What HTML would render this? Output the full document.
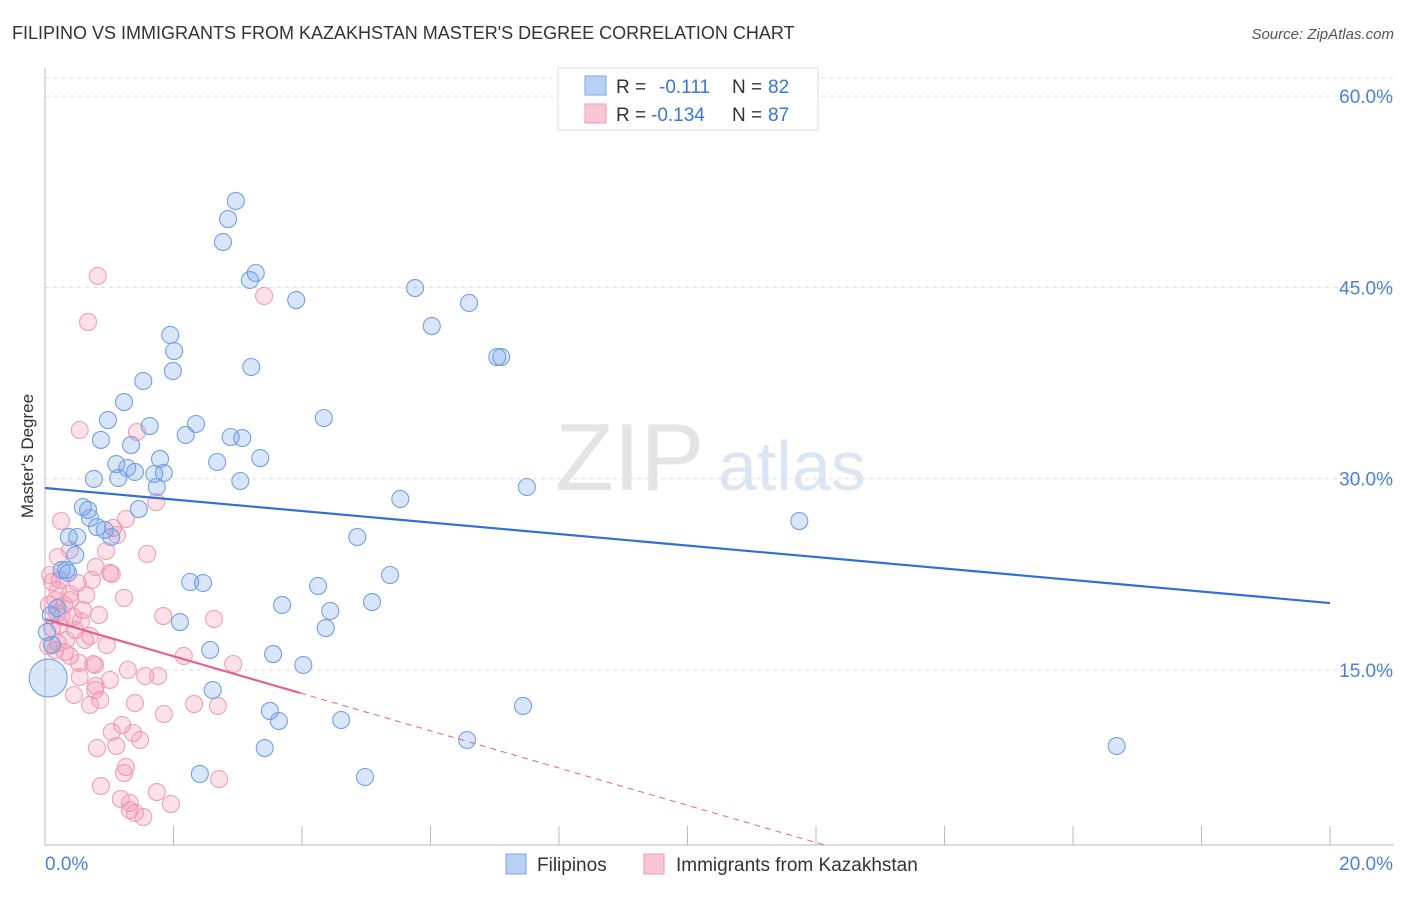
<!DOCTYPE html>
<html><head><meta charset="utf-8"><style>
body{margin:0;background:#fff;font-family:"Liberation Sans",sans-serif;}
svg text{font-family:"Liberation Sans",sans-serif;}
</style></head><body>
<svg id="chart" width="1406" height="892" xmlns="http://www.w3.org/2000/svg">
<text x="12" y="39" font-size="18" fill="#333">FILIPINO VS IMMIGRANTS FROM KAZAKHSTAN MASTER'S DEGREE CORRELATION CHART</text>
<text x="1394" y="39" font-size="15" fill="#555" text-anchor="end" font-style="italic">Source: ZipAtlas.com</text>
<text transform="translate(33,456) rotate(-90)" font-size="17" fill="#333" text-anchor="middle">Master's Degree</text>
<text x="555" y="490" font-size="96" fill="#e4e4e4" font-family="Liberation Serif">ZIP</text>
<text x="718" y="490" font-size="70" fill="#dbe6f5">atlas</text>
<g id="grid"></g><g id="pts"></g><g id="lines"></g>
<g>
<rect x="558" y="68" width="260" height="62" fill="#fff" stroke="#ddd"/>
<rect x="585" y="76" width="21" height="19" fill="#b8d0f3" stroke="#7aa5e6"/>
<rect x="585" y="104" width="21" height="19" fill="#f9c6d4" stroke="#ef9ab4"/>
<text x="616" y="93" font-size="19" fill="#333">R =</text><text x="659" y="93" font-size="19" fill="#3a76d6">-0.111</text>
<text x="732" y="93" font-size="19" fill="#333">N =</text><text x="768" y="93" font-size="19" fill="#3a76d6">82</text>
<text x="616" y="121" font-size="19" fill="#333">R =</text><text x="651" y="121" font-size="19" fill="#3a76d6">-0.134</text>
<text x="732" y="121" font-size="19" fill="#333">N =</text><text x="768" y="121" font-size="19" fill="#3a76d6">87</text>
</g>
<g>
<rect x="506" y="854" width="20" height="20" fill="#b8d0f3" stroke="#7aa5e6"/>
<text x="537" y="871" font-size="19" fill="#333">Filipinos</text>
<rect x="644" y="854" width="20" height="20" fill="#f9c6d4" stroke="#ef9ab4"/>
<text x="676" y="871" font-size="19" fill="#333">Immigrants from Kazakhstan</text>
</g>
</svg>
<script>
const yTicks=[15,30,45,60];
const yTickLabels=["15.0%","30.0%","45.0%","60.0%"];
const xEndLabels=["0.0%","20.0%"];
const blueX=[2.97,2.85,2.77,3.28,3.19,3.91,5.76,6.60,6.02,7.04,7.10,1.95,2.01,1.99,3.21,1.53,1.23,0.98,1.63,0.87,1.34,2.19,2.35,2.89,3.07,4.34,3.35,2.68,1.11,1.28,1.40,1.79,1.70,1.85,1.14,0.76,1.74,3.04,5.53,7.50,1.46,0.59,0.67,0.70,0.81,0.93,1.03,0.37,0.50,11.74,4.86,0.33,0.47,0.26,0.36,2.26,2.46,4.25,5.37,4.44,5.09,3.69,2.10,4.37,2.57,3.55,4.02,2.61,3.50,3.64,4.61,7.44,3.42,6.57,2.41,4.98,16.68,0.09,0.19,0.03,0.11,0.05];
const blueY=[51.78,50.36,48.56,46.13,45.58,44.01,44.95,43.78,41.97,39.54,39.54,41.27,40.01,38.45,38.76,37.66,36.01,34.60,34.13,33.04,32.64,33.43,34.29,33.27,33.19,34.76,31.62,31.31,31.15,30.84,30.53,31.55,30.37,30.45,30.06,29.98,29.35,29.82,28.41,29.35,27.62,27.78,27.55,26.92,26.21,25.98,25.43,25.43,25.43,26.68,25.43,22.84,24.02,22.84,22.61,21.90,21.82,21.59,22.45,19.63,20.33,20.10,18.76,18.29,16.57,16.25,15.39,13.43,11.79,11.00,11.08,12.18,8.88,9.51,6.85,6.61,9.04,19.31,19.86,17.98,16.96,14.37];
const pinkX=[0.82,3.41,0.67,0.54,1.43,1.73,0.25,1.26,1.06,1.12,0.39,0.95,1.59,0.20,0.79,1.01,1.04,0.11,0.51,1.23,0.20,0.39,0.64,0.16,0.06,1.84,2.63,0.59,0.19,0.26,0.44,0.56,0.11,0.47,0.70,0.33,0.20,0.96,0.05,0.31,0.39,0.75,0.53,2.16,2.93,1.29,1.56,1.76,0.78,0.54,0.45,0.78,0.79,0.70,1.40,2.69,2.32,1.85,1.20,1.04,1.37,0.81,1.11,1.26,1.23,2.71,0.87,1.74,1.18,1.32,1.32,1.40,1.53,1.96,0.23,0.08,0.39,0.62,0.23,0.86,0.16,0.30,0.73,0.84,1.48,1.01];
const pinkY=[45.90,44.33,42.29,33.82,33.66,28.17,26.68,26.84,26.14,25.59,24.41,24.33,24.10,23.86,23.08,22.61,22.53,21.90,21.82,20.65,21.27,20.96,20.88,20.49,20.10,19.23,19.00,19.71,19.47,19.16,19.16,18.84,18.29,18.14,17.67,17.35,17.12,16.96,16.88,16.41,16.10,15.47,15.55,16.10,15.47,15.00,14.53,14.53,15.39,14.45,13.04,13.43,13.75,12.26,12.41,12.18,12.33,11.55,10.69,10.14,10.06,8.88,9.04,7.39,6.92,6.45,5.90,5.43,4.89,4.57,4.02,3.79,3.47,4.49,22.06,22.45,20.49,17.35,18.53,12.65,16.57,20.10,22.06,19.31,9.51,14.22];
const blueLine=[29.27,20.25];
const pinkLine=[19.0,13.2];
const pinkLineEndX=3.97;
const NS="http://www.w3.org/2000/svg";
const X0=45,X1=1330,YB=845;
function sx(v){return X0+v/20*(X1-X0);}
function sy(v){return 861.3-v*12.753;}
function mk(tag,attrs,parent){const e=document.createElementNS(NS,tag);for(const k in attrs)e.setAttribute(k,attrs[k]);parent.appendChild(e);return e;}
const grid=document.getElementById('grid');
let e=mk('line',{x1:X0,x2:1394,y1:78,y2:78,stroke:'#ddd','stroke-dasharray':'4,4'},grid);


yTicks.forEach((t,i)=>{
 let g=mk('line',{x1:X0,x2:1394,y1:sy(t),y2:sy(t),stroke:'#ddd','stroke-dasharray':'4,4'},grid);
 
 
 let tx=mk('text',{x:1393,y:sy(t)+7,'font-size':19,fill:'#4a80d8','text-anchor':'end'},grid);
 tx.textContent=yTickLabels[i];
 
 
});
e=mk('line',{x1:X0,x2:X0,y1:68,y2:YB,stroke:'#bbb'},grid);


e=mk('line',{x1:X0,x2:1394,y1:YB,y2:YB,stroke:'#bbb'},grid);


for(let k=1;k<=10;k++){
 let t=mk('line',{x1:sx(2*k),x2:sx(2*k),y1:826,y2:YB,stroke:'#bbb'},grid);
 
 
}
let l0=mk('text',{x:45,y:870,'font-size':19,fill:'#4a80d8'},grid);l0.textContent=xEndLabels[0];


let l1=mk('text',{x:1393,y:870,'font-size':19,fill:'#4a80d8','text-anchor':'end'},grid);l1.textContent=xEndLabels[1];


const pts=document.getElementById('pts');
pinkX.forEach((x,i)=>{
 let c=mk('circle',{cx:sx(x),cy:sy(pinkY[i]),r:8.5,fill:'rgba(242,140,170,0.26)',stroke:'#ee9fb7','stroke-width':1.1},pts);
 
 
});
blueX.forEach((x,i)=>{
 let big=i===blueX.length-1;
 let c=mk('circle',{cx:sx(x),cy:sy(blueY[i]),r:big?19:8.5,fill:'rgba(110,160,235,0.26)',stroke:'#72a0e2','stroke-width':1.1},pts);
 
 
});
const lines=document.getElementById('lines');
e=mk('line',{x1:sx(0),y1:sy(blueLine[0]),x2:sx(20),y2:sy(blueLine[1]),stroke:'#2f6fd6','stroke-width':2.2},lines);


e=mk('line',{x1:sx(0),y1:sy(pinkLine[0]),x2:sx(pinkLineEndX),y2:sy(pinkLine[1]),stroke:'#e8608a','stroke-width':2.2},lines);


const slope=(pinkLine[1]-pinkLine[0])/pinkLineEndX;
const yBot=(861.3-YB)/12.753;
const xEnd=(yBot-pinkLine[0])/slope;
e=mk('line',{x1:sx(pinkLineEndX),y1:sy(pinkLine[1]),x2:sx(xEnd),y2:YB,stroke:'#e8608a','stroke-width':1,'stroke-dasharray':'6,5'},lines);


</script>
</body></html>
